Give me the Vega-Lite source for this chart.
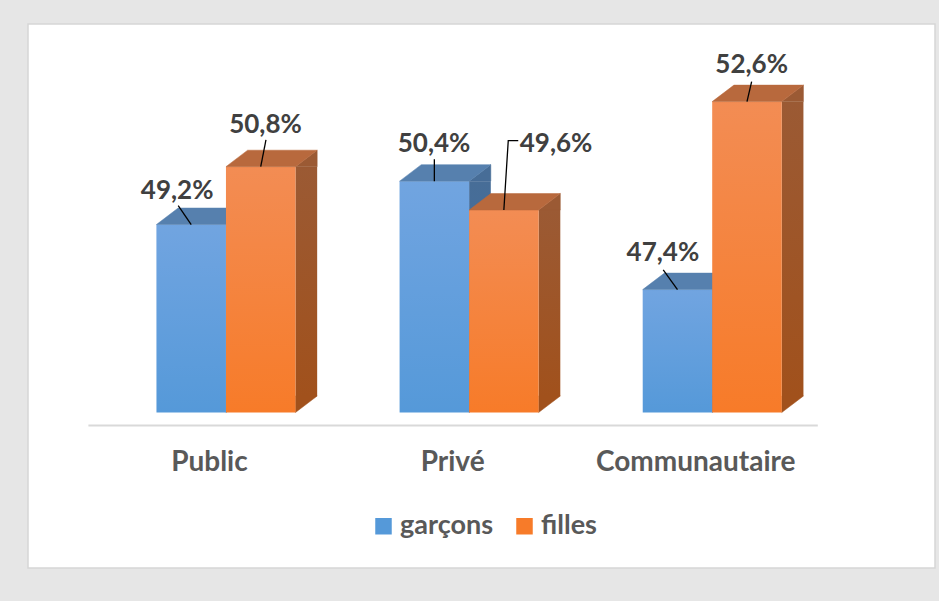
{
  "$schema": "https://vega.github.io/schema/vega-lite/v6.json",
  "width": 907,
  "height": 544,
  "autosize": {"type": "none"},
  "padding": {"left": 28, "top": 24, "right": 4, "bottom": 33},
  "background": "#e6e6e6",
  "config": {
    "view": {"fill": "#ffffff", "stroke": "#d6d6d6", "strokeWidth": 1.5},
    "locale": {"number": {"decimal": ",", "thousands": " ", "grouping": [3], "currency": ["", " €"]}}
  },
  "data": {
    "values": [
      {"categorie": "Public", "sexe": "garçons", "valeur": 0.492},
      {"categorie": "Public", "sexe": "filles", "valeur": 0.508},
      {"categorie": "Privé", "sexe": "garçons", "valeur": 0.504},
      {"categorie": "Privé", "sexe": "filles", "valeur": 0.496},
      {"categorie": "Communautaire", "sexe": "garçons", "valeur": 0.474},
      {"categorie": "Communautaire", "sexe": "filles", "valeur": 0.526}
    ]
  },
  "encoding": {
    "x": {
      "field": "categorie",
      "type": "nominal",
      "scale": {"domain": ["Public", "Privé", "Communautaire"], "range": [76.4, 805.8], "paddingInner": 0, "paddingOuter": 0},
      "axis": {
        "title": null,
        "orient": "bottom",
        "offset": -143,
        "position": -16.5,
        "domain": true,
        "domainColor": "#d9d9d9",
        "domainWidth": 2,
        "ticks": false,
        "tickSize": 0,
        "grid": false,
        "labelFont": "Lato",
        "labelFontSize": 28,
        "labelFontWeight": "bold",
        "labelColor": "#595959",
        "labelPadding": 23,
        "labelAngle": 0,
        "labelLimit": 400
      }
    },
    "y": {
      "field": "valeur",
      "type": "quantitative",
      "scale": {"domain": [0.44, 0.54], "range": [388.5, 27], "zero": false, "nice": false},
      "axis": null
    }
  },
  "layer": [
    {
      "transform": [{"filter": "datum.sexe === 'garçons'"}],
      "layer": [
        {
          "mark": {"type": "bar", "width": 21.7, "xOffset": 10.85, "y2Offset": -16.5, "opacity": 1,
            "fill": {"gradient": "linear", "x1": 0, "y1": 0, "x2": 0, "y2": 1, "stops": [{"offset": 0, "color": "#476d97"}, {"offset": 1, "color": "#3f6ea2"}]}},
          "encoding": {"y2": {"datum": 0.44}}
        },
        {
          "mark": {"type": "point", "shape": "M0,0L21.7,-16.5L21.7,0Z", "size": 4, "filled": true, "opacity": 1, "fill": "#476d97", "stroke": "#476d97", "strokeWidth": 0.5},
          "encoding": {}
        },
        {
          "mark": {"type": "point", "shape": "M0,-16.5L21.7,-16.5L0,0Z", "size": 4, "filled": true, "opacity": 1, "fill": "#3f6ea2", "stroke": "#3f6ea2", "strokeWidth": 0.5},
          "encoding": {"y": {"datum": 0.44, "type": "quantitative"}}
        },
        {
          "mark": {"type": "bar", "width": 69.5, "xOffset": -34.75, "opacity": 1},
          "encoding": {
            "y2": {"datum": 0.44},
            "color": {
              "field": "sexe", "type": "nominal",
              "scale": {"domain": ["garçons", "filles"], "range": ["#5599d9", "#f77b29"]},
              "legend": {"title": null, "orient": "none", "legendX": 342, "legendY": 488.5, "direction": "horizontal", "symbolType": "square", "symbolSize": 272, "symbolStrokeWidth": 0, "symbolOpacity": 1, "labelFont": "Lato", "labelFontSize": 27, "labelFontWeight": "bold", "labelColor": "#595959", "labelOffset": 3, "columnPadding": 17, "padding": 0, "labelLimit": 300}
            }
          }
        },
        {
          "mark": {"type": "bar", "width": 69.5, "xOffset": -34.75, "opacity": 1,
            "fill": {"gradient": "linear", "x1": 0, "y1": 0, "x2": 0, "y2": 1, "stops": [{"offset": 0, "color": "rgba(225,210,255,0.2)"}, {"offset": 1, "color": "rgba(225,210,255,0)"}]}},
          "encoding": {"y2": {"datum": 0.44}}
        },
        {
          "mark": {"type": "point", "shape": "M-69.5,0L0,0L21.7,-16.5L-47.8,-16.5Z", "size": 4, "filled": true, "opacity": 1, "fill": "#5680ae", "stroke": "#5680ae", "strokeWidth": 0.5},
          "encoding": {}
        }
      ]
    },
    {
      "transform": [{"filter": "datum.sexe === 'filles'"}],
      "layer": [
        {
          "mark": {"type": "bar", "width": 21.7, "xOffset": 80.35, "y2Offset": -16.5, "opacity": 1,
            "fill": {"gradient": "linear", "x1": 0, "y1": 0, "x2": 0, "y2": 1, "stops": [{"offset": 0, "color": "#9b5a34"}, {"offset": 1, "color": "#a1511c"}]}},
          "encoding": {"y2": {"datum": 0.44}}
        },
        {
          "mark": {"type": "point", "shape": "M69.5,0L91.2,-16.5L91.2,0Z", "size": 4, "filled": true, "opacity": 1, "fill": "#9b5a34", "stroke": "#9b5a34", "strokeWidth": 0.5},
          "encoding": {}
        },
        {
          "mark": {"type": "point", "shape": "M69.5,-16.5L91.2,-16.5L69.5,0Z", "size": 4, "filled": true, "opacity": 1, "fill": "#a1511c", "stroke": "#a1511c", "strokeWidth": 0.5},
          "encoding": {"y": {"datum": 0.44, "type": "quantitative"}}
        },
        {
          "mark": {"type": "bar", "width": 69.5, "xOffset": 34.75, "opacity": 1},
          "encoding": {
            "y2": {"datum": 0.44},
            "color": {
              "field": "sexe", "type": "nominal",
              "scale": {"domain": ["garçons", "filles"], "range": ["#5599d9", "#f77b29"]},
              "legend": {"title": null, "orient": "none", "legendX": 342, "legendY": 488.5, "direction": "horizontal", "symbolType": "square", "symbolSize": 272, "symbolStrokeWidth": 0, "symbolOpacity": 1, "labelFont": "Lato", "labelFontSize": 27, "labelFontWeight": "bold", "labelColor": "#595959", "labelOffset": 3, "columnPadding": 17, "padding": 0, "labelLimit": 300}
            }
          }
        },
        {
          "mark": {"type": "bar", "width": 69.5, "xOffset": 34.75, "opacity": 1,
            "fill": {"gradient": "linear", "x1": 0, "y1": 0, "x2": 0, "y2": 1, "stops": [{"offset": 0, "color": "rgba(225,210,255,0.2)"}, {"offset": 1, "color": "rgba(225,210,255,0)"}]}},
          "encoding": {"y2": {"datum": 0.44}}
        },
        {
          "mark": {"type": "point", "shape": "M0,0L69.5,0L91.2,-16.5L21.7,-16.5Z", "size": 4, "filled": true, "opacity": 1, "fill": "#b8693d", "stroke": "#b8693d", "strokeWidth": 0.5},
          "encoding": {}
        }
      ]
    },
    {
      "transform": [{"filter": "datum.categorie === 'Public' && datum.sexe === 'garçons'"}],
      "layer": [
        {"mark": {"type": "point", "shape": "M-47.75,-18.8L-34.75,0", "size": 4, "filled": false, "opacity": 1, "stroke": "#000000", "strokeWidth": 1.3}, "encoding": {}},
        {"mark": {"type": "text", "font": "Lato", "fontSize": 26, "fontWeight": "bold", "color": "#404040", "align": "center", "baseline": "alphabetic", "dx": -48.8, "dy": -25.5},
         "encoding": {"text": {"field": "valeur", "type": "quantitative", "format": ".1%"}}}
      ]
    },
    {
      "transform": [{"filter": "datum.categorie === 'Public' && datum.sexe === 'filles'"}],
      "layer": [
        {"mark": {"type": "point", "shape": "M40,-26.7L34.75,0", "size": 4, "filled": false, "opacity": 1, "stroke": "#000000", "strokeWidth": 1.3}, "encoding": {}},
        {"mark": {"type": "text", "font": "Lato", "fontSize": 26, "fontWeight": "bold", "color": "#404040", "align": "center", "baseline": "alphabetic", "dx": 39.5, "dy": -33.4},
         "encoding": {"text": {"field": "valeur", "type": "quantitative", "format": ".1%"}}}
      ]
    },
    {
      "transform": [{"filter": "datum.categorie === 'Privé' && datum.sexe === 'garçons'"}],
      "layer": [
        {"mark": {"type": "point", "shape": "M-34.75,-21.8L-34.75,0", "size": 4, "filled": false, "opacity": 1, "stroke": "#000000", "strokeWidth": 1.3}, "encoding": {}},
        {"mark": {"type": "text", "font": "Lato", "fontSize": 26, "fontWeight": "bold", "color": "#404040", "align": "center", "baseline": "alphabetic", "dx": -35, "dy": -29.4},
         "encoding": {"text": {"field": "valeur", "type": "quantitative", "format": ".1%"}}}
      ]
    },
    {
      "transform": [{"filter": "datum.categorie === 'Privé' && datum.sexe === 'filles'"}],
      "layer": [
        {"mark": {"type": "point", "shape": "M49.15,-69.4L39.15,-69.4L34.75,0", "size": 4, "filled": false, "opacity": 1, "stroke": "#000000", "strokeWidth": 1.3}, "encoding": {}},
        {"mark": {"type": "text", "font": "Lato", "fontSize": 26, "fontWeight": "bold", "color": "#404040", "align": "center", "baseline": "alphabetic", "dx": 87, "dy": -58.4},
         "encoding": {"text": {"field": "valeur", "type": "quantitative", "format": ".1%"}}}
      ]
    },
    {
      "transform": [{"filter": "datum.categorie === 'Communautaire' && datum.sexe === 'garçons'"}],
      "layer": [
        {"mark": {"type": "point", "shape": "M-49,-19.6L-34.75,0", "size": 4, "filled": false, "opacity": 1, "stroke": "#000000", "strokeWidth": 1.3}, "encoding": {}},
        {"mark": {"type": "text", "font": "Lato", "fontSize": 26, "fontWeight": "bold", "color": "#404040", "align": "center", "baseline": "alphabetic", "dx": -49.3, "dy": -28.6},
         "encoding": {"text": {"field": "valeur", "type": "quantitative", "format": ".1%"}}}
      ]
    },
    {
      "transform": [{"filter": "datum.categorie === 'Communautaire' && datum.sexe === 'filles'"}],
      "layer": [
        {"mark": {"type": "point", "shape": "M39.4,-19.9L34.75,0", "size": 4, "filled": false, "opacity": 1, "stroke": "#000000", "strokeWidth": 1.3}, "encoding": {}},
        {"mark": {"type": "text", "font": "Lato", "fontSize": 26, "fontWeight": "bold", "color": "#404040", "align": "center", "baseline": "alphabetic", "dx": 39.4, "dy": -28.3},
         "encoding": {"text": {"field": "valeur", "type": "quantitative", "format": ".1%"}}}
      ]
    }
  ]
}
